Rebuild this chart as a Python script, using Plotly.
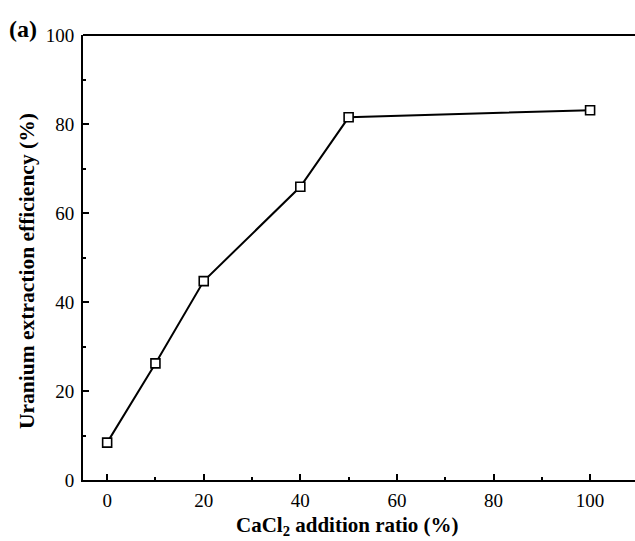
import plotly.graph_objects as go

cacl2_ratio = [0, 10, 20, 40, 50, 100]
extraction_eff = [8.4, 26.2, 44.7, 65.9, 81.5, 83.1]
x_ticks = [0, 20, 40, 60, 80, 100]
y_ticks = [0, 20, 40, 60, 80, 100]

font_family = "Liberation Serif, Times New Roman, serif"

fig = go.Figure()
fig.add_trace(go.Scatter(
    x=cacl2_ratio, y=extraction_eff, mode="lines+markers",
    line=dict(color="black", width=2),
    marker=dict(symbol="square", size=9, color="white",
                line=dict(color="black", width=1.6)),
    showlegend=False, cliponaxis=False,
))

axis_common = dict(
    showline=True, linecolor="black", linewidth=2,
    ticks="inside", ticklen=6, tickwidth=2, tickcolor="black",
    showgrid=False, zeroline=False,
    tickfont=dict(family=font_family, size=19, color="black"),
)

fig.update_xaxes(range=[-5, 109.3], tickvals=x_ticks,
                 minor=dict(ticks="inside", ticklen=3, tickwidth=2,
                            tickcolor="black", dtick=10, tick0=0),
                 ticklabelstandoff=2, **axis_common)
fig.update_yaxes(range=[0, 100], tickvals=y_ticks,
                 minor=dict(ticks="inside", ticklen=3, tickwidth=2,
                            tickcolor="black", dtick=10, tick0=0),
                 ticklabelstandoff=3, **axis_common)

fig.add_shape(type="line", xref="paper", yref="paper", x0=0, x1=1, y0=1, y1=1,
              line=dict(color="black", width=2))

fig.add_annotation(text="<b>CaCl<sub>2</sub> addition ratio (%)</b>",
                   xref="paper", yref="paper", x=(347 - 83) / 552, y=(480 - 526) / 445,
                   xanchor="center", yanchor="middle", showarrow=False,
                   font=dict(family=font_family, size=21, color="black"))
fig.add_annotation(text="<b>Uranium extraction efficiency (%)</b>",
                   xref="paper", yref="paper", x=(27 - 83) / 552, y=(480 - 271) / 445,
                   xanchor="center", yanchor="middle", showarrow=False, textangle=-90,
                   font=dict(family=font_family, size=21.5, color="black"))
fig.add_annotation(text="<b>(a)</b>",
                   xref="paper", yref="paper", x=(23 - 83) / 552, y=(480 - 29) / 445,
                   xanchor="center", yanchor="middle", showarrow=False,
                   font=dict(family=font_family, size=24, color="black"))

fig.update_layout(
    width=635, height=541,
    margin=dict(l=83, r=0, t=35, b=61),
    plot_bgcolor="white", paper_bgcolor="white",
)

fig.write_html("out.html", config={"displayModeBar": False},
               post_script="document.body.style.margin='0';document.body.style.overflow='hidden';")
